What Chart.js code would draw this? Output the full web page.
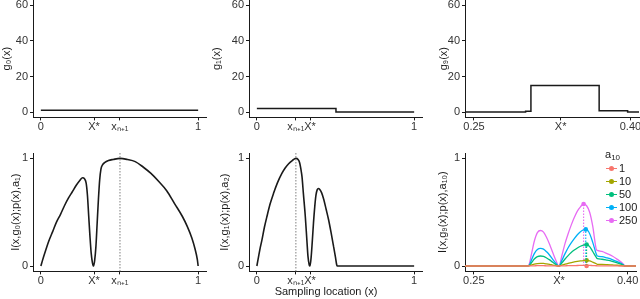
<!DOCTYPE html>
<html lang="en">
<head>
  <meta charset="UTF-8" />
  <title>Sampling information panels</title>
  <script src="https://cdn.jsdelivr.net/npm/chart.js"></script>
  <style>
    body { margin: 0; background: #fff; font-family: 'Liberation Sans', Arial, Helvetica, sans-serif; }
    #wrap { position: relative; width: 640px; height: 299px; overflow: hidden; background: #fff; }
    canvas { position: absolute; }
    .xtitle { position: absolute; left: 226px; top: 285px; width: 200px; text-align: center;
              font-size: 11px; line-height: 13px; color: #1a1a1a; }
    .leg { position: absolute; font-size: 11px; line-height: 13px; color: #1a1a1a; }
    .leg sub { font-size: 8px; vertical-align: -2px; }
    .key { position: absolute; width: 11px; height: 0; }
    .dot { position: absolute; width: 5px; height: 5px; border-radius: 50%; }
  </style>
</head>
<body>
<div id="wrap">
  <canvas id="g0" width="210" height="140" style="left:0;top:0"></canvas>
  <canvas id="g1" width="216" height="140" style="left:210px;top:0"></canvas>
  <canvas id="g9" width="214" height="140" style="left:426px;top:0"></canvas>
  <canvas id="i1" width="210" height="159" style="left:0;top:140px"></canvas>
  <canvas id="i2" width="216" height="159" style="left:210px;top:140px"></canvas>
  <canvas id="i10" width="214" height="159" style="left:426px;top:140px"></canvas>
  <div class="xtitle">Sampling location (x)</div>
  <div id="legend"></div>
</div>

<script>
  // ---- top row: step functions g(x) ----
  const g0X = [0, 1];
  const g0Y = [1, 1];
  const g1X = [0, 0.503, 1];
  const g1Y = [2, 0, 0];
  const g9X = [0.2414, 0.2995, 0.3046, 0.3700, 0.3973, 0.4082];
  const g9Y = [0, 0.5, 15, 0.8, 0, 0];

  // ---- bottom left / middle: information curves ----
  const i1X = [0, 0.010, 0.025, 0.050, 0.075, 0.100, 0.125, 0.150, 0.175, 0.200, 0.225, 0.250, 0.265, 0.278, 0.288,
               0.296, 0.304, 0.312, 0.320, 0.328, 0.335, 0.342, 0.350, 0.358, 0.366, 0.374, 0.382, 0.392, 0.405, 0.430,
               0.460, 0.503, 0.550, 0.600, 0.650, 0.700, 0.750, 0.800, 0.850, 0.900, 0.930, 0.960, 0.980, 0.995, 1.000];
  const i1Y = [0, 0.05, 0.12, 0.23, 0.32, 0.41, 0.48, 0.56, 0.63, 0.69, 0.75, 0.80, 0.82, 0.81, 0.77,
               0.66, 0.47, 0.28, 0.12, 0.03, 0, 0.05, 0.18, 0.40, 0.62, 0.80, 0.90, 0.94, 0.96, 0.98,
               0.99, 1.00, 0.99, 0.97, 0.92, 0.86, 0.785, 0.70, 0.58, 0.46, 0.37, 0.26, 0.16, 0.06, 0];

  const i2X = [0, 0.010, 0.020, 0.032, 0.048, 0.064, 0.085, 0.106, 0.130, 0.159, 0.180, 0.202, 0.225, 0.248,
               0.262, 0.272, 0.280, 0.287, 0.296, 0.308, 0.318, 0.325, 0.333, 0.338, 0.345, 0.352, 0.360, 0.368,
               0.376, 0.384, 0.392, 0.400, 0.412, 0.425, 0.440, 0.456, 0.472, 0.488, 0.500, 0.508, 0.512, 1.000];
  const i2Y = [0, 0.08, 0.16, 0.24, 0.36, 0.46, 0.58, 0.675, 0.77, 0.86, 0.91, 0.95, 0.98, 1.00,
               0.99, 0.96, 0.90, 0.83, 0.67, 0.46, 0.24, 0.09, 0.01, 0, 0.08, 0.22, 0.40, 0.55,
               0.66, 0.71, 0.72, 0.71, 0.68, 0.62, 0.53, 0.43, 0.31, 0.18, 0.08, 0.01, 0, 0];

  // ---- bottom right: one curve per a10 ----
  const i10X = [0.2414, 0.2995, 0.3035, 0.306, 0.309, 0.312, 0.315, 0.318, 0.321, 0.324, 0.327, 0.330, 0.333,
                0.336, 0.339, 0.342, 0.345, 0.348, 0.351, 0.354, 0.357, 0.360, 0.363, 0.366, 0.3695,
                0.3705, 0.375, 0.380, 0.385, 0.390, 0.3955, 0.3975, 0.4082];
  const a1Vals   = [0, 0, 0, 0.001, 0.002, 0.003, 0.003, 0.003, 0.002, 0.002, 0.001, 0.0005, 0,
                    0.001, 0.002, 0.003, 0.0035, 0.004, 0.005, 0.0055, 0.006, 0.006, 0.0055, 0.004, 0.0025,
                    0.002, 0.002, 0.0015, 0.001, 0.0008, 0.0003, 0, 0];
  const a10Vals  = [0, 0, 0.001, 0.008, 0.018, 0.023, 0.025, 0.024, 0.020, 0.015, 0.009, 0.004, 0,
                    0.008, 0.017, 0.025, 0.032, 0.039, 0.044, 0.048, 0.051, 0.053, 0.048, 0.036, 0.021,
                    0.016, 0.015, 0.013, 0.010, 0.007, 0.002, 0, 0];
  const a50Vals  = [0, 0, 0.002, 0.028, 0.065, 0.087, 0.093, 0.089, 0.075, 0.057, 0.035, 0.015, 0,
                    0.03, 0.065, 0.097, 0.125, 0.148, 0.168, 0.184, 0.195, 0.200, 0.18, 0.135, 0.08,
                    0.068, 0.063, 0.054, 0.043, 0.029, 0.010, 0, 0];
  const a100Vals = [0, 0, 0.004, 0.05, 0.115, 0.153, 0.164, 0.157, 0.132, 0.10, 0.062, 0.026, 0,
                    0.055, 0.115, 0.17, 0.215, 0.255, 0.29, 0.318, 0.335, 0.338, 0.30, 0.22, 0.11,
                    0.093, 0.087, 0.075, 0.060, 0.040, 0.014, 0, 0];
  const a250Vals = [0, 0, 0.007, 0.10, 0.23, 0.31, 0.33, 0.315, 0.265, 0.20, 0.125, 0.053, 0,
                    0.10, 0.21, 0.30, 0.38, 0.45, 0.51, 0.55, 0.576, 0.56, 0.50, 0.37, 0.155,
                    0.145, 0.135, 0.115, 0.093, 0.062, 0.022, 0, 0];

  const aLabels = ['1', '10', '50', '100', '250'];
  const aColors = ['#F8766D', '#A3A500', '#00BF7D', '#00B0F6', '#E76BF3'];
  const aSeries = [a1Vals, a10Vals, a50Vals, a100Vals, a250Vals];
  const nextX = [0.3600, 0.3600, 0.3600, 0.3592, 0.3571];   // x_{n+1} marker per a10
  const nextY = [0, 0.053, 0.200, 0.340, 0.576];

  // ---- ticks ----
  const topYTicks = [0, 20, 40, 60];
  const botYTicks = [0, 1];
  const xn1 = 'x\u2099\u208A\u2081';
  const leftXTicks = [0, 0.338, 0.503, 1];
  const leftXText = ['0', 'X*', xn1, '1'];
  const midXTicks = [0, 0.248, 0.338, 1];
  const midXText = ['0', xn1, 'X*', '1'];
  const rightXTicks = [0.25, 0.3331, 0.40];
  const rightXText = ['0.25', 'X*', '0.40'];

  const FONT = "'Liberation Sans', Arial, Helvetica, sans-serif";
  const INK = '#1a1a1a';
  const TICK_INK = '#333333';

  const pts = (xs, ys) => xs.map((x, i) => ({ x, y: ys[i] }));

  function xScale(min, max, vals, text, height) {
    return {
      type: 'linear', min, max,
      afterBuildTicks: s => { s.ticks = vals.map(v => ({ value: v })); },
      afterFit: s => { s.height = height; s.paddingLeft = 0; s.paddingRight = 0; },
      ticks: { autoSkip: false, maxRotation: 0, minRotation: 0, padding: 0, color: TICK_INK,
               font: { family: FONT, size: 11 }, callback: (v, i) => text[i] },
      grid: { drawOnChartArea: false, tickLength: 3, color: INK },
      border: { color: INK, width: 1 }
    };
  }

  function yScale(min, max, vals, title, width, titlePad) {
    return {
      type: 'linear', min, max,
      afterBuildTicks: s => { s.ticks = vals.map(v => ({ value: v })); },
      afterFit: s => { s.width = width; s.paddingTop = 0; s.paddingBottom = 0; },
      ticks: { padding: 2, color: TICK_INK, font: { family: FONT, size: 11 }, callback: v => String(v) },
      grid: { drawOnChartArea: false, tickLength: 3, color: INK },
      border: { color: INK, width: 1 },
      title: { display: true, text: title, color: INK, font: { family: FONT, size: 11 },
               padding: { top: titlePad, bottom: 0 } }
    };
  }

  function panel(id, datasets, x, y, pad) {
    return new Chart(document.getElementById(id), {
      type: 'line',
      data: { datasets },
      options: {
        responsive: false, animation: false, devicePixelRatio: 1,
        layout: { padding: pad },
        plugins: { legend: { display: false }, tooltip: { enabled: false } },
        elements: { point: { radius: 0 } },
        scales: { x, y }
      }
    });
  }

  const stepLine = (xs, ys) => ({ data: pts(xs, ys), stepped: true, borderColor: INK, borderWidth: 1.5, pointRadius: 0 });
  const curve = (xs, ys, color, w) => ({ data: pts(xs, ys), borderColor: color, borderWidth: w, pointRadius: 0,
                                         cubicInterpolationMode: 'monotone' });
  const dotted = (x, y0, y1, color) => ({ data: [{ x, y: y0 }, { x, y: y1 }], borderColor: color, borderWidth: 1.1,
                                          borderDash: [1.5, 1.5], pointRadius: 0 });

  // top row
  panel('g0', [stepLine(g0X, g0Y)],
    xScale(-0.05, 1.05, leftXTicks, leftXText, 22.6),
    yScale(-3, 63, topYTicks, 'g\u2080(x)', 33, 0),
    { left: 0, right: 4, top: 0, bottom: 0 });
  panel('g1', [stepLine(g1X, g1Y)],
    xScale(-0.05, 1.05, midXTicks, midXText, 22.6),
    yScale(-3, 63, topYTicks, 'g\u2081(x)', 39, 0.4),
    { left: 0, right: 4, top: 0, bottom: 0 });
  panel('g9', [stepLine(g9X, g9Y)],
    xScale(0.2414, 0.4082, rightXTicks, rightXText, 22.6),
    yScale(-3, 63, topYTicks, 'g\u2089(x)', 39, 11.4),
    { left: 0, right: 1, top: 0, bottom: 0 });

  // bottom row
  panel('i1', [dotted(0.503, -0.05, 1.05, '#8a8a8a'), curve(i1X, i1Y, INK, 1.6)],
    xScale(-0.05, 1.05, leftXTicks, leftXText, 27.6),
    yScale(-0.05, 1.05, botYTicks, 'I(x,g\u2080(x);p(x),a\u2081)', 33, 9.4),
    { left: 0, right: 4, top: 13, bottom: 0 });
  panel('i2', [dotted(0.248, -0.05, 1.05, '#8a8a8a'), curve(i2X, i2Y, INK, 1.6)],
    xScale(-0.05, 1.05, midXTicks, midXText, 27.6),
    yScale(-0.05, 1.05, botYTicks, 'I(x,g\u2081(x);p(x),a\u2082)', 39, 8.4),
    { left: 0, right: 4, top: 13, bottom: 0 });

  const i10Sets = [];
  aSeries.forEach((vals, k) => i10Sets.push(curve(i10X, vals, aColors[k], 1.3)));
  aSeries.forEach((vals, k) => i10Sets.push(dotted(nextX[k], 0, nextY[k], aColors[k])));
  aSeries.forEach((vals, k) => i10Sets.push({
    data: [{ x: nextX[k], y: nextY[k] }], showLine: false, pointRadius: 2.3,
    pointBackgroundColor: aColors[k], pointBorderWidth: 0
  }));
  panel('i10', i10Sets,
    xScale(0.2414, 0.4082, rightXTicks, rightXText, 27.6),
    yScale(-0.05, 1.05, botYTicks, 'I(x,g\u2089(x);p(x),a\u2081\u2080)', 39, 10.4),
    { left: 0, right: 1, top: 13, bottom: 0 });

  // legend
  const leg = document.getElementById('legend');
  let html = '<div class="leg" style="left:605px;top:148px">a<sub>10</sub></div>';
  aLabels.forEach((lab, k) => {
    const cy = 168.3 + k * 13.1;
    html += `<div class="key" style="left:606px;top:${(cy - 0.75).toFixed(1)}px;border-top:1.5px solid ${aColors[k]}"></div>`;
    html += `<div class="dot" style="left:609px;top:${(cy - 2.5).toFixed(1)}px;background:${aColors[k]}"></div>`;
    html += `<div class="leg" style="left:619px;top:${(cy - 6.5).toFixed(1)}px">${lab}</div>`;
  });
  leg.innerHTML = html;
</script>
</body>
</html>
